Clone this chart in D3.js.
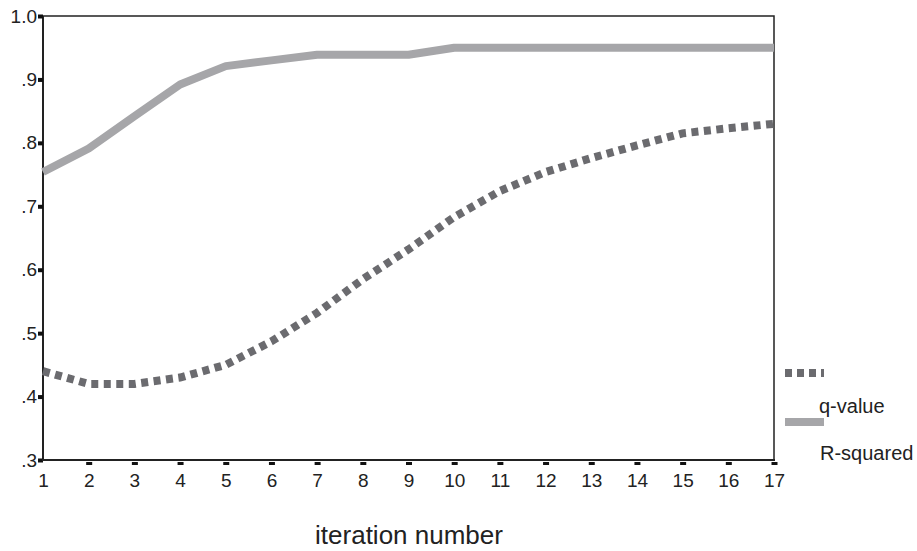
<!DOCTYPE html>
<html>
<head>
<meta charset="utf-8">
<script src="https://cdn.jsdelivr.net/npm/d3@7"></script>
<style>
  body { margin: 0; background: #fff; }
  svg { display: block; font-family: "Liberation Sans", Arial, sans-serif; }
</style>
</head>
<body>
<svg id="chart" width="917" height="551"></svg>
<script>
// data
const iterations = [1, 2, 3, 4, 5, 6, 7, 8, 9, 10, 11, 12, 13, 14, 15, 16, 17];
const qValue = [.44, .42, .42, .43, .45, .487, .532, .585, .632, .683, .724, .754, .776, .796, .815, .823, .83];
const rSquared = [.754, .791, .842, .892, .921, .93, .939, .939, .939, .95, .95, .95, .95, .95, .95, .95, .95];
const yTicks = [.3, .4, .5, .6, .7, .8, .9, 1.0];
const yTickLabels = [".3", ".4", ".5", ".6", ".7", ".8", ".9", "1.0"];
const seriesNames = ["q-value", "R-squared"];

const svg = d3.select("#chart");
const plot = { left: 43, right: 774, top: 16, bottom: 460 };

const x = d3.scaleLinear().domain([1, 17]).range([plot.left, plot.right]);
const y = d3.scaleLinear().domain([.3, 1.0]).range([plot.bottom, plot.top]);

// frame
svg.append("path")
  .attr("d", `M${plot.left},${plot.top}H${plot.right}V${plot.bottom}`)
  .attr("fill", "none")
  .attr("stroke", "#222")
  .attr("stroke-width", 1.5);

// y axis
const yAxis = svg.append("g")
  .attr("transform", `translate(${plot.left},0)`)
  .call(d3.axisLeft(y)
    .tickValues(yTicks)
    .tickSize(0)
    .tickPadding(6)
    .tickFormat((d, i) => yTickLabels[i]));
yAxis.select(".domain").attr("stroke", "#222").attr("stroke-width", 2)
  .attr("d", `M0,${plot.top}V${plot.bottom + 1}`);
yAxis.selectAll("text")
  .attr("font-size", 19)
  .attr("fill", "#222")
  .attr("font-family", "Liberation Sans, Arial, sans-serif");
yAxis.selectAll(".tick").append("rect")
  .attr("x", -5).attr("y", -2)
  .attr("width", 5).attr("height", 4)
  .attr("fill", "#111");

// x axis
const xAxis = svg.append("g")
  .attr("transform", `translate(0,${plot.bottom})`)
  .call(d3.axisBottom(x)
    .tickValues(iterations)
    .tickSize(0)
    .tickPadding(14)
    .tickFormat(d3.format("d")));
xAxis.select(".domain").attr("stroke", "#222").attr("stroke-width", 2)
  .attr("d", `M${plot.left - 1},0H${plot.right + 1}`);
xAxis.selectAll("text")
  .attr("font-size", 19)
  .attr("fill", "#222")
  .attr("font-family", "Liberation Sans, Arial, sans-serif");
xAxis.selectAll(".tick").filter(d => d > 1).append("rect")
  .attr("x", -3).attr("y", 2)
  .attr("width", 6).attr("height", 3)
  .attr("fill", "#111");

// axis title
svg.append("text")
  .attr("x", 409)
  .attr("y", 544)
  .attr("text-anchor", "middle")
  .attr("font-size", 26)
  .attr("fill", "#222")
  .text("iteration number");

// lines
const line = d3.line()
  .x((d, i) => x(iterations[i]))
  .y(d => y(d));

svg.append("path")
  .datum(rSquared)
  .attr("d", line)
  .attr("fill", "none")
  .attr("stroke", "#a6a6a9")
  .attr("stroke-width", 8)
  .attr("stroke-linejoin", "round");

svg.append("path")
  .datum(qValue)
  .attr("d", line)
  .attr("fill", "none")
  .attr("stroke", "#6b6b6f")
  .attr("stroke-width", 8)
  .attr("stroke-dasharray", "7,5.5");

// legend
const legend = svg.append("g");
legend.append("line")
  .attr("x1", 785).attr("x2", 824)
  .attr("y1", 373).attr("y2", 373)
  .attr("stroke", "#6b6b6f")
  .attr("stroke-width", 8)
  .attr("stroke-dasharray", "7,5");
legend.append("text")
  .attr("x", 819).attr("y", 413)
  .attr("font-size", 20)
  .attr("fill", "#222")
  .text(seriesNames[0]);
legend.append("line")
  .attr("x1", 785).attr("x2", 824)
  .attr("y1", 422).attr("y2", 422)
  .attr("stroke", "#a6a6a9")
  .attr("stroke-width", 8);
legend.append("text")
  .attr("x", 820).attr("y", 460)
  .attr("font-size", 20)
  .attr("fill", "#222")
  .text(seriesNames[1]);
</script>
</body>
</html>
